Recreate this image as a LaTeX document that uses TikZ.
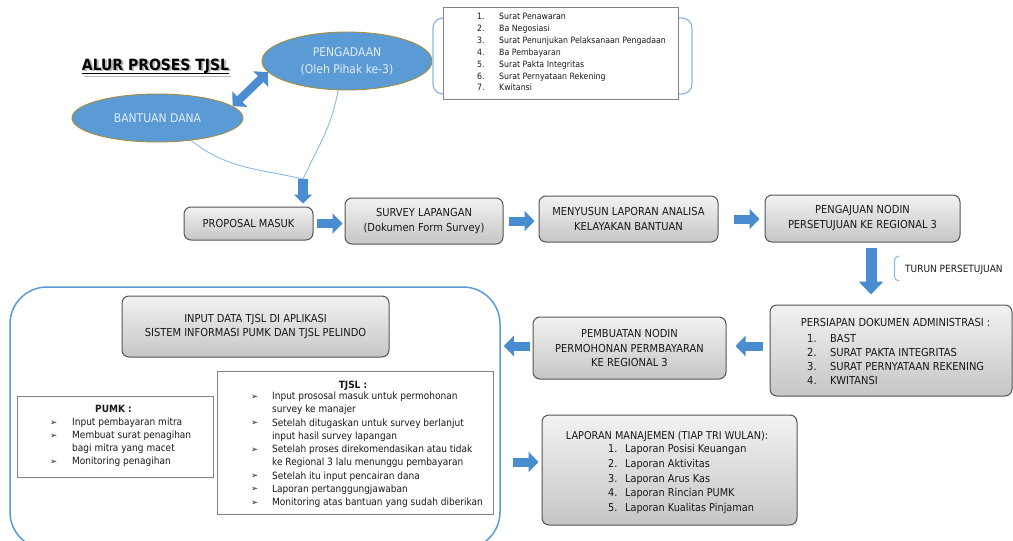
\documentclass[tikz,border=0pt]{standalone}
\usepackage{fontspec}
\setmainfont{DejaVu Sans}[FakeStretch=0.9]
\newfontfamily\symfont{DejaVu Sans}
\usetikzlibrary{arrows.meta,calc,shapes.geometric}
\definecolor{ellfill}{RGB}{91,155,213}
\definecolor{elledge}{RGB}{165,140,60}
\definecolor{elltext}{RGB}{225,236,247}
\definecolor{arrowblue}{RGB}{74,140,208}
\definecolor{linkblue}{RGB}{140,185,228}
\definecolor{frameblue}{RGB}{91,155,213}
\definecolor{boxedge}{RGB}{85,85,85}
\definecolor{txt}{RGB}{25,25,25}
\definecolor{listedge}{RGB}{130,130,130}
\newcommand\fsz[2]{\fontsize{#1}{#2}\selectfont}
\newcommand\blt[1]{\makebox[#1][l]{\raisebox{0.3pt}{\symfont\fontsize{8.5}{8.5}\selectfont ➢}}}
\begin{document}
\begin{tikzpicture}[x=1pt,y=-1pt,
  proc/.style={draw=boxedge, line width=1pt, rounded corners=7pt, top color=gray!10, bottom color=gray!45, align=center, text=txt, inner sep=0pt, font=\fsz{11}{15}},
  ell/.style={ellipse, draw=elledge, line width=0.9pt, fill=ellfill, text=elltext, align=center, inner sep=0pt, font=\fsz{12}{17}},
  listbox/.style={draw=listedge, line width=0.8pt, fill=white, inner sep=0pt},
  listtext/.style={anchor=base west, inner sep=0pt, text=txt},
  bigarrow/.style={arrowblue, line width=9pt, -{Triangle[length=10pt,width=20pt]}},
  link/.style={linkblue, line width=0.9pt}
]
\useasboundingbox (0,0) rectangle (1013,541);

% title
\node[anchor=base, inner sep=0pt, text=gray!55, font=\bfseries\fsz{15.5}{18}] (titleshadow) at (157.5,71.5) {ALUR PROSES TJSL};
\node[anchor=base, inner sep=0pt, text=black, font=\bfseries\fsz{15.5}{18}] (title) at (155.5,70) {ALUR PROSES TJSL};
\draw[gray!55, line width=1.3pt] ($(titleshadow.base west)+(0,5)$) -- ($(titleshadow.base east)+(0,5)$);
\draw[black, line width=1.3pt] ($(title.base west)+(0,3.5)$) -- ($(title.base east)+(0,3.5)$);

% ellipses
\node[ell, minimum width=170, minimum height=58] (pg) at (347,61) {PENGADAAN\\(Oleh Pihak ke-3)};
\node[ell, minimum width=171, minimum height=48] (bd) at (157.5,118) {BANTUAN DANA};
\draw[arrowblue, line width=8pt, {Triangle[length=10pt,width=21pt]}-{Triangle[length=10pt,width=21pt]}] (bd.9) -- (pg.188);

% document list
\node[draw=linkblue, line width=1.2pt, rounded corners=10pt, minimum width=259, minimum height=76, inner sep=0pt] (bracket) at (562.5,56) {};
\node[listbox, minimum width=235, minimum height=92] (docs) at (560.5,53) {};
\node[listtext, font=\fsz{8.7}{11.9}] (doclist) at (477,19.5) {\begin{tabular}[t]{@{}l@{}l@{}}
\makebox[22pt][l]{1.} & Surat Penawaran\\
\makebox[22pt][l]{2.} & Ba Negosiasi\\
\makebox[22pt][l]{3.} & Surat Penunjukan Pelaksanaan Pengadaan\\
\makebox[22pt][l]{4.} & Ba Pembayaran\\
\makebox[22pt][l]{5.} & Surat Pakta Integritas\\
\makebox[22pt][l]{6.} & Surat Pernyataan Rekening\\
\makebox[22pt][l]{7.} & Kwitansi
\end{tabular}};

% row 1
\node[proc, minimum width=129, minimum height=33] (pm) at (248.5,223.5) {PROPOSAL MASUK};
\node[proc, minimum width=158, minimum height=46] (sv) at (424,221) {SURVEY LAPANGAN\\(Dokumen Form Survey)};
\node[proc, minimum width=179, minimum height=46] (ms) at (628.5,219) {MENYUSUN LAPORAN ANALISA\\KELAYAKAN BANTUAN};
\node[proc, minimum width=195, minimum height=47] (pn) at (862.5,218.5) {PENGAJUAN NODIN\\PERSETUJUAN KE REGIONAL 3};

% links into proposal
\coordinate (join) at (303,179);
\draw[link] (bd.-34) to[out=-38, in=167] (join);
\draw[link] (pg.-107) to[out=-100, in=65] (join);
\draw[arrowblue, line width=10pt, -{Triangle[length=9pt,width=18pt]}, shorten >=3pt] (join) -- (join |- pm.north);

\draw[bigarrow, shorten <=3pt, shorten >=2pt] (pm.east) -- (pm.east -| sv.west);
\draw[bigarrow, shorten <=5pt, shorten >=4pt] (sv.east) -- (sv.east -| ms.west);
\draw[bigarrow, shorten <=15pt, shorten >=5pt] (ms.east) -- (ms.east -| pn.west);

% right column
\node[proc, minimum width=242, minimum height=91] (pd) at (891,350.5) {};
\node[anchor=base, inner sep=0pt, text=txt, font=\fsz{11}{15}] (pdhead) at (895.5,326) {PERSIAPAN DOKUMEN ADMINISTRASI :};
\node[listtext, font=\fsz{11}{14.3}] (pdlist) at (807,342) {\begin{tabular}[t]{@{}l@{}l@{}}
\makebox[23pt][l]{1.} & BAST\\
\makebox[23pt][l]{2.} & SURAT PAKTA INTEGRITAS\\
\makebox[23pt][l]{3.} & SURAT PERNYATAAN REKENING\\
\makebox[23pt][l]{4.} & KWITANSI
\end{tabular}};

\coordinate (dx) at (871,0);
\draw[arrowblue, line width=11pt, -{Triangle[length=13pt,width=24pt]}, shorten <=5pt, shorten >=10pt] (pn.south -| dx) -- (pd.north -| dx);
\draw[linkblue, line width=1.1pt, rounded corners=3pt] (899,256) -- (894.5,257.5) -- (894.5,279.5) -- (899,281);
\node[anchor=west, inner sep=0pt, text=txt, font=\fsz{10}{12}] (turun) at (905,270) {TURUN PERSETUJUAN};

\node[proc, minimum width=193, minimum height=62, font=\fsz{11}{14.5}] (pb) at (629.5,348) {PEMBUATAN NODIN\\PERMOHONAN PERMBAYARAN\\KE REGIONAL 3};

% container
\node[draw=frameblue, line width=1.5pt, rounded corners=37pt, minimum width=490, minimum height=262, inner sep=0pt] (cont) at (255,418) {};
\node[proc, minimum width=267, minimum height=61, font=\fsz{11}{14}] (id) at (255.5,326.5) {INPUT DATA TJSL DI APLIKASI\\SISTEM INFORMASI PUMK DAN TJSL PELINDO};

\coordinate (ay) at (0,346);
\coordinate (by) at (0,462);
\draw[bigarrow, shorten <=7pt, shorten >=9pt] (pd.west |- ay) -- (pb.east |- ay);
\draw[bigarrow, shorten <=3pt, shorten >=3pt] (pb.west |- ay) -- (cont.east |- ay);

% PUMK box
\node[listbox, minimum width=196, minimum height=81] (pumk) at (115,436.5) {};
\node[anchor=base, inner sep=0pt, text=txt, font=\bfseries\fsz{10}{12}] (pumkhead) at (113.5,412) {PUMK :};
\node[listtext, font=\fsz{10}{13}] (pumklist) at (50,425.5) {\begin{tabular}[t]{@{}l@{}l@{}}
\blt{22pt} & Input pembayaran mitra\\
\blt{22pt} & Membuat surat penagihan\\
 & bagi mitra yang macet\\
\blt{22pt} & Monitoring penagihan
\end{tabular}};

% TJSL box
\node[listbox, minimum width=276, minimum height=143] (tjsl) at (355,442.5) {};
\node[anchor=base, inner sep=0pt, text=txt, font=\bfseries\fsz{10}{12}] (tjslhead) at (353,388) {TJSL :};
\node[listtext, font=\fsz{10}{13.25}] (tjsllist) at (251,399.5) {\begin{tabular}[t]{@{}l@{}l@{}}
\blt{21pt} & Input prososal masuk untuk permohonan\\
 & survey ke manajer\\
\blt{21pt} & Setelah ditugaskan untuk survey berlanjut\\
 & input hasil survey lapangan\\
\blt{21pt} & Setelah proses direkomendasikan atau tidak\\
 & ke Regional 3 lalu menunggu pembayaran\\
\blt{21pt} & Setelah itu input pencairan dana\\
\blt{21pt} & Laporan pertanggungjawaban\\
\blt{21pt} & Monitoring atas bantuan yang sudah diberikan
\end{tabular}};

% laporan manajemen
\node[proc, minimum width=255, minimum height=110] (lm) at (669.5,470) {};
\node[anchor=base, inner sep=0pt, text=txt, font=\fsz{10.8}{14}] (lmhead) at (667,439) {LAPORAN MANAJEMEN (TIAP TRI WULAN):};
\node[listtext, font=\fsz{10.8}{14.8}] (lmlist) at (608,452.5) {\begin{tabular}[t]{@{}l@{}l@{}}
\makebox[17pt][l]{1.} & Laporan Posisi Keuangan\\
\makebox[17pt][l]{2.} & Laporan Aktivitas\\
\makebox[17pt][l]{3.} & Laporan Arus Kas\\
\makebox[17pt][l]{4.} & Laporan Rincian PUMK\\
\makebox[17pt][l]{5.} & Laporan Kualitas Pinjaman
\end{tabular}};
\draw[bigarrow, shorten <=12pt, shorten >=3pt] (cont.east |- by) -- (lm.west |- by);
\end{tikzpicture}
\end{document}
